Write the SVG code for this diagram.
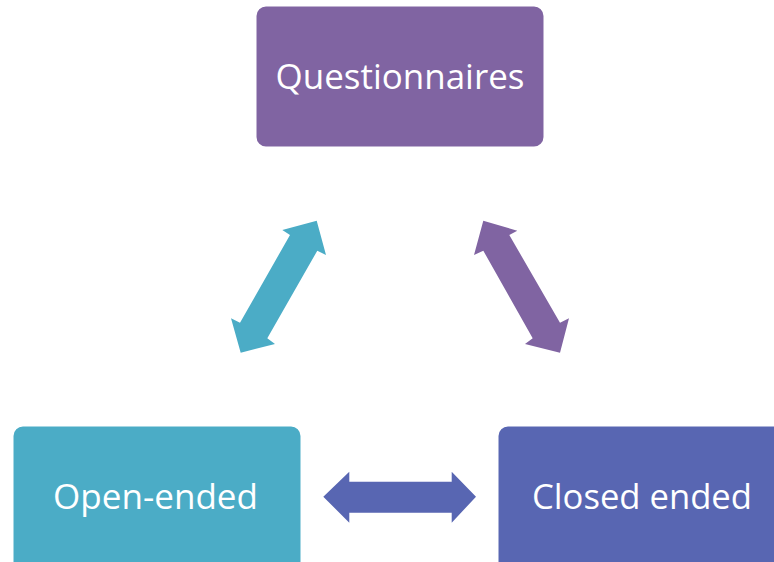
<svg xmlns="http://www.w3.org/2000/svg" width="774" height="562" viewBox="0 0 774 562">
<style>
.box{stroke:#ffffff;stroke-width:3}
.lbl{font-family:"Open Sans","Liberation Sans",sans-serif;font-size:34px;fill:#ffffff;text-anchor:middle}
</style>
<rect width="774" height="562" fill="#ffffff"/>
<g id="connectors">
<polygon fill="#4BACC6" points="316.7,220.7 326,255 317.3,250.7 267.3,338.3 275,344 240.7,352.7 231,318.3 240,322.7 290,235 282.3,230"/>
<polygon fill="#8064A2" points="483.3,220.7 517.3,230.7 509.3,235 560,322.7 569,318.3 560,352.7 525,344 532.7,338.3 483.3,250.7 474,255"/>
<polygon fill="#5866B2" points="323.3,496.7 349.3,471.7 349.3,481.7 451.7,481.7 451.7,471.7 476,496.7 451.7,522.7 451.7,512.7 349.3,512.7 349.3,522.7"/>
</g>
<g id="node-questionnaires">
<rect class="box" x="255" y="5" width="290" height="143" rx="11" fill="#8064A2"/>
<text class="lbl" x="400" y="89" textLength="249" lengthAdjust="spacingAndGlyphs">Questionnaires</text>
</g>
<g id="node-open-ended">
<rect class="box" x="12" y="425" width="290" height="150" rx="11" fill="#4BACC6"/>
<text class="lbl" x="155.5" y="509" textLength="205" lengthAdjust="spacingAndGlyphs">Open-ended</text>
</g>
<g id="node-closed-ended">
<rect class="box" x="497" y="425" width="290" height="150" rx="11" fill="#5866B2"/>
<text class="lbl" x="642" y="509" textLength="220" lengthAdjust="spacingAndGlyphs">Closed ended</text>
</g>
</svg>
